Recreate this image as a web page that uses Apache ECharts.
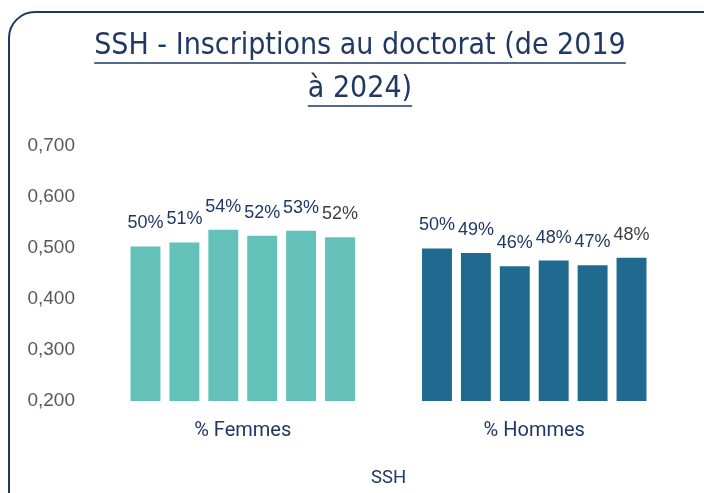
<!DOCTYPE html>
<html><head><meta charset="utf-8">
<script src="https://cdn.jsdelivr.net/npm/echarts@6/dist/echarts.min.js"></script>
<style>html,body{margin:0;padding:0;background:#fff;}#c{width:704px;height:493px;}</style>
</head><body><div id="c"></div>
<script>
const categories = ['% Femmes', '% Hommes'];
const years = ['2019', '2020', '2021', '2022', '2023', '2024'];
const femmes = [0.503, 0.511, 0.536, 0.524, 0.534, 0.521];
const hommes = [0.499, 0.490, 0.464, 0.4754, 0.466, 0.481];
const yTicks = { min: 0.2, max: 0.7, interval: 0.1 };
const titleLines = ['SSH - Inscriptions au doctorat (de 2019', 'à 2024)'];
const axisName = 'SSH';

const navy = '#1F3864';
const titleFont = 'Liberation Sans Narrow, DejaVu Sans Condensed, sans-serif';
const titleSize = 30;
const cx = 360;
const lineY = [46, 89];

const chart = echarts.init(document.getElementById('c'));
const ctx = document.createElement('canvas').getContext('2d');
ctx.font = titleSize + 'px ' + titleFont;

const graphics = [{
  type: 'rect', shape: { x: 9, y: 12, width: 760, height: 560, r: 26 },
  style: { fill: 'none', stroke: navy, lineWidth: 2 }, silent: true
}];
titleLines.forEach((t, i) => {
  const w = ctx.measureText(t).width;
  graphics.push({
    type: 'text', x: cx, y: lineY[i],
    style: { text: t, font: titleSize + 'px ' + titleFont, fill: navy, align: 'center', verticalAlign: 'middle' }
  });
  graphics.push({
    type: 'line', shape: { x1: cx - w / 2, y1: lineY[i] + 17, x2: cx + w / 2, y2: lineY[i] + 17 },
    style: { stroke: navy, lineWidth: 1.5 }
  });
});

const series = years.map((y, i) => ({
  name: y, type: 'bar',
  barGap: '30%', barCategoryGap: '23%',
  data: [
    { value: femmes[i], itemStyle: { color: '#63C1BA' } },
    { value: hommes[i], itemStyle: { color: '#216A8F' } }
  ],
  label: {
    show: true, position: 'top', distance: 14,
    fontFamily: 'Liberation Sans, Arial, sans-serif', fontSize: 18,
    color: i === years.length - 1 ? '#404040' : navy,
    formatter: p => Math.round(p.value * 100) + '%'
  }
}));

chart.setOption({
  animation: false,
  grid: { left: 97, right: 24, top: 146, bottom: 91 },
  xAxis: {
    type: 'category', data: categories,
    axisLine: { show: false }, axisTick: { show: false },
    axisLabel: { color: navy, fontFamily: 'Roboto, sans-serif', fontSize: 20, margin: 20 },
    name: axisName, nameLocation: 'middle', nameGap: 68,
    nameTextStyle: { color: navy, fontFamily: 'Roboto, sans-serif', fontSize: 18.5 }
  },
  yAxis: {
    type: 'value', min: yTicks.min, max: yTicks.max, interval: yTicks.interval,
    splitLine: { show: false }, axisLine: { show: false }, axisTick: { show: false },
    axisLabel: {
      color: '#595959', fontFamily: 'Liberation Sans, Arial, sans-serif', fontSize: 19, margin: 22,
      formatter: v => v.toFixed(3).replace('.', ',')
    }
  },
  graphic: graphics,
  series: series
});
</script></body></html>
